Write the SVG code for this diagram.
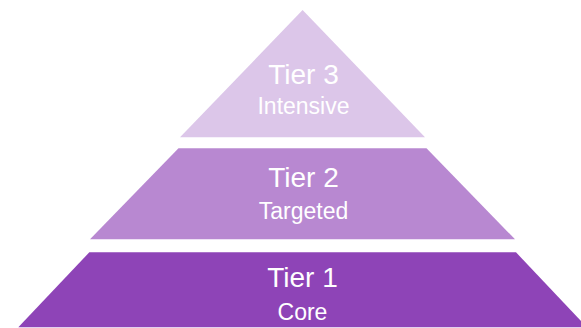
<svg xmlns="http://www.w3.org/2000/svg" width="581" height="328" viewBox="0 0 581 328">
  <style>
    .title { font-family: "Liberation Sans", Arial, Helvetica, sans-serif; font-size: 28px; fill: #ffffff; text-anchor: middle; }
    .sub { font-family: "Liberation Sans", Arial, Helvetica, sans-serif; font-size: 23px; fill: #ffffff; text-anchor: middle; }
  </style>
  <rect width="581" height="328" fill="#ffffff"/>
  <g id="tier3">
    <polygon points="302.6,10 180,137.3 425,137.3" fill="#DCC6E9"/>
    <text class="title" x="303.5" y="84.3">Tier 3</text>
    <text class="sub" x="303.5" y="114">Intensive</text>
  </g>
  <g id="tier2">
    <polygon points="178.5,148.3 426.5,148.3 515,239.3 90,239.3" fill="#B888D1"/>
    <text class="title" x="303.5" y="187.3">Tier 2</text>
    <text class="sub" x="303.5" y="219.3">Targeted</text>
  </g>
  <g id="tier1">
    <polygon points="89.3,252.3 516,252.3 587,327.3 18.3,327.3" fill="#8E44B7"/>
    <text class="title" x="302.5" y="287.3">Tier 1</text>
    <text class="sub" x="302.5" y="320">Core</text>
  </g>
  <g id="connectors"/>
</svg>
